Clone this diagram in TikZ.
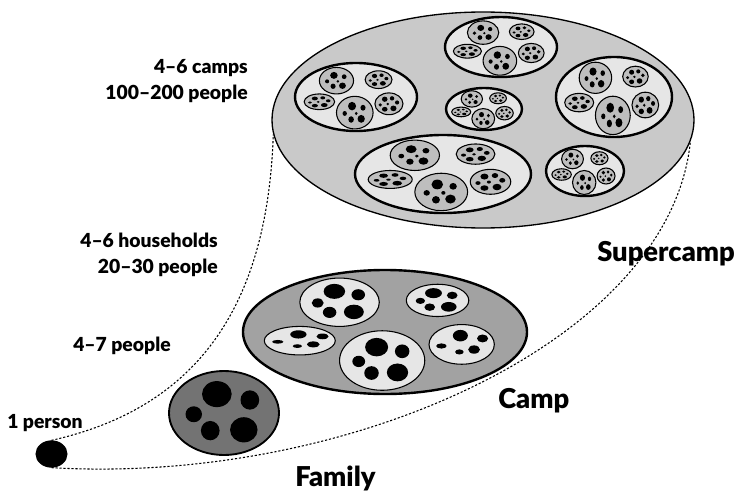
\documentclass[tikz,border=0pt]{standalone}
\usepackage{fontspec}
\setmainfont{Lato}[BoldFont={Lato Black}]
\usepackage{tikz}
\usetikzlibrary{shapes.geometric, positioning}
\definecolor{superfill}{HTML}{C9C9C9}
\definecolor{campfill}{HTML}{A2A2A2}
\definecolor{famfill}{HTML}{737373}
\definecolor{lightfill}{HTML}{E6E6E6}
\definecolor{hhgray}{HTML}{BEBEBE}
\tikzset{
  grp/.style={ellipse, draw=black, inner sep=0pt, line width=1pt},
  lab/.style={font=\fontsize{14.5}{19}\selectfont\bfseries, inner sep=0pt},
  biglab/.style={font=\fontsize{20.5}{24}\selectfont\bfseries, inner sep=0pt},
  hhline/.style={draw=black, line width=0.8pt},
  cmpline/.style={draw=black, line width=1.8pt},
  link/.style={dash pattern=on 1.6pt off 1.4pt, line width=0.8pt},
}
% dot patterns, unit household
\newcommand{\dotsA}{%
  \fill (-0.13,-0.45) ellipse (0.27 and 0.31);
  \fill (0.47,-0.31) ellipse (0.17 and 0.23);
  \fill (-0.55,0.03) ellipse (0.15 and 0.19);
  \fill (-0.25,0.42) ellipse (0.17 and 0.23);
  \fill (0.36,0.40) ellipse (0.25 and 0.30);}
\newcommand{\dotsB}{%
  \fill (-0.04,-0.44) ellipse (0.23 and 0.29);
  \fill (0.64,-0.30) ellipse (0.17 and 0.20);
  \fill (-0.62,0.08) ellipse (0.16 and 0.13);
  \fill (-0.07,0.38) ellipse (0.13 and 0.13);
  \fill (0.38,0.26) ellipse (0.18 and 0.21);}
\newcommand{\dotsC}{%
  \fill (-0.30,-0.42) ellipse (0.20 and 0.24);
  \fill (0.22,-0.50) ellipse (0.16 and 0.20);
  \fill (0.58,-0.12) ellipse (0.15 and 0.19);
  \fill (-0.62,0.10) ellipse (0.13 and 0.15);
  \fill (-0.08,0.02) ellipse (0.10 and 0.12);
  \fill (-0.30,0.50) ellipse (0.20 and 0.22);
  \fill (0.32,0.42) ellipse (0.22 and 0.26);}
\newcommand{\dotsD}{%
  \fill (-0.15,-0.40) ellipse (0.22 and 0.26);
  \fill (0.45,-0.30) ellipse (0.14 and 0.18);
  \fill (-0.55,0.05) ellipse (0.12 and 0.15);
  \fill (0.08,0.05) ellipse (0.08 and 0.10);
  \fill (-0.20,0.42) ellipse (0.15 and 0.20);
  \fill (0.35,0.38) ellipse (0.20 and 0.24);}
\newcommand{\hh}[6]{%
  \begin{scope}[shift={(#1,#2)}, xscale=#3, yscale=#4]
    \filldraw[hhline, fill=#5] (0,0) circle (1);
    #6
  \end{scope}}
\newcommand{\fivehh}[6]{%
  \hh{-0.32}{-0.48}{0.28}{0.39}{#1}{#2}
  \hh{0.37}{-0.51}{0.22}{0.26}{#1}{#3}
  \hh{-0.60}{0.14}{0.25}{0.23}{#1}{#4}
  \hh{-0.02}{0.46}{0.30}{0.48}{#1}{#5}
  \hh{0.54}{0.20}{0.23}{0.32}{#1}{#6}}
\newcommand{\subcamp}[4]{%
  \begin{scope}[shift={(#1,#2)}, xscale=#3, yscale=#4]
    \filldraw[cmpline, fill=lightfill] (0,0) circle (1);
    \fivehh{hhgray}{\dotsD}{\dotsC}{\dotsC}{\dotsD}{\dotsC}
  \end{scope}}

\begin{document}
\begin{tikzpicture}[x=0.75pt, y=-0.75pt]
  \useasboundingbox (0,0) rectangle (739,492);

  \node[grp, fill=superfill, minimum width=316.5pt, minimum height=162pt] (super) at (483,120) {};
  \subcamp{501}{47}{56}{30}
  \subcamp{356}{97}{61}{34}
  \subcamp{484}{109}{38}{21}
  \subcamp{614}{97}{58}{40}
  \subcamp{443}{174}{88}{39}
  \subcamp{585}{171}{39}{25}

  \node[grp, fill=campfill, line width=1.8pt, minimum width=213pt, minimum height=93pt] (camp) at (385,332) {};
  \begin{scope}[shift={(camp.center)}, xscale=142, yscale=62]
    \fivehh{lightfill}{\dotsA}{\dotsA}{\dotsB}{\dotsA}{\dotsB}
  \end{scope}

  \node[grp, fill=famfill, line width=1.4pt, minimum width=82.5pt, minimum height=63pt] (family) at (224,413) {};
  \begin{scope}[shift={(family.center)}, xscale=55, yscale=42]
    \dotsA
  \end{scope}

  \node[grp, fill=black, minimum width=23pt, minimum height=19.5pt] (person) at (51.5,454) {};

  \draw[link] (person.north) .. controls (210,405) and (268,290) .. (super.184);
  \draw[link] (person.south) .. controls (350,485) and (670,340) .. (super.-6);

  \node[lab, anchor=east, align=right] (lsuper) at (248,81) {4–6 camps\\100–200 people};
  \node[lab, anchor=east, align=right] (lcamp) at (218,255) {4–6 households\\20–30 people};
  \node[lab, anchor=west] (lfamily) at (73,346) {4–7 people};
  \node[lab, anchor=west] (lperson) at (7,423) {1 person};

  \node[biglab, anchor=base west] (tsuper) at (597,261) {Supercamp};
  \node[biglab, anchor=base west] (tcamp) at (498,408) {Camp};
  \node[biglab, anchor=base west] (tfamily) at (295,486) {Family};
\end{tikzpicture}
\end{document}
